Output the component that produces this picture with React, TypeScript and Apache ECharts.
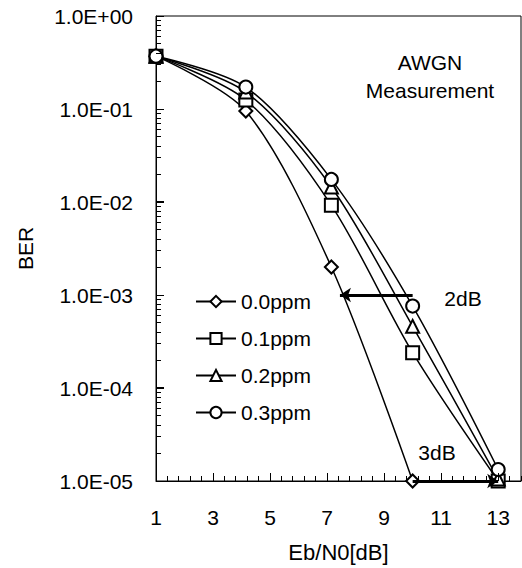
import React, { useEffect, useRef } from "react";
import * as echarts from "echarts";

const ebn0 = [1, 4.15, 7.15, 10, 13];
const ber00 = [0.37, 0.095, 0.002, 0.00001];
const ber01 = [0.37, 0.125, 0.0092, 0.00024, 0.00001];
const ber02 = [0.37, 0.152, 0.0145, 0.00046, 0.0000105];
const ber03 = [0.37, 0.172, 0.0175, 0.00076, 0.0000133];
const seriesNames = ["0.0ppm", "0.1ppm", "0.2ppm", "0.3ppm"];
const seriesSymbols = ["emptyDiamond", "emptyRect", "emptyTriangle", "emptyCircle"];
const yTickLabels: Record<string, string> = {
  "0": "1.0E+00",
  "-1": "1.0E-01",
  "-2": "1.0E-02",
  "-3": "1.0E-03",
  "-4": "1.0E-04",
  "-5": "1.0E-05",
};
const yMajorTicks = [1, 0.1, 0.01, 0.001, 0.0001, 0.00001];
const yMinorTicks = [
  2e-5, 3e-5, 4e-5, 5e-5, 6e-5, 7e-5, 8e-5, 9e-5,
  2e-4, 3e-4, 4e-4, 5e-4, 6e-4, 7e-4, 8e-4, 9e-4,
  2e-3, 3e-3, 4e-3, 5e-3, 6e-3, 7e-3, 8e-3, 9e-3,
  2e-2, 3e-2, 4e-2, 5e-2, 6e-2, 7e-2, 8e-2, 9e-2,
  0.2, 0.3, 0.4, 0.5, 0.6, 0.7, 0.8, 0.9,
];
const xMajorTicks = [1, 3, 5, 7, 9, 11, 13];
const xMinorStep = 0.4;
const arrow2dB = { from: [10, 1e-3], to: [7.45, 1e-3] };
const arrow3dB = { from: [10, 1e-5], to: [13, 1e-5] };

const FONT = "'Liberation Sans', Arial, sans-serif";

export default function App() {
  const ref = useRef<HTMLDivElement>(null);
  useEffect(() => {
    document.body.style.margin = "0";
    const chart = echarts.init(ref.current!, undefined, { renderer: "svg" });
    const allData = [ber00, ber01, ber02, ber03];
    const lineSeries: any[] = allData.map((arr, i) => ({
      name: seriesNames[i],
      type: "line",
      data: arr.map((v, j) => [ebn0[j], v]),
      symbol: seriesSymbols[i],
      symbolSize: 13,
      smooth: 0.3,
      lineStyle: { color: "#000", width: 1.5 },
      itemStyle: { color: "#000", borderColor: "#000", borderWidth: 1.5 },
      z: 3,
    }));
    lineSeries[0].markLine = {
      silent: true,
      symbol: ["none", "arrow"],
      symbolSize: 11,
      label: { show: false },
      lineStyle: { color: "#000", width: 3, type: "solid" },
      data: [
        [{ coord: arrow2dB.from }, { coord: arrow2dB.to }],
        [{ coord: arrow3dB.from }, { coord: arrow3dB.to }],
      ],
    };
    const option: any = {
      animation: false,
      grid: {
        left: 156,
        right: 1,
        top: 16,
        bottom: 86,
        show: true,
        borderColor: "#000",
        borderWidth: 1,
      },
      legend: {
        orient: "vertical",
        left: 190,
        top: 286,
        itemWidth: 40,
        itemHeight: 14,
        itemGap: 16,
        data: seriesNames,
        textStyle: { fontSize: 21, color: "#000", fontFamily: FONT },
      },
      xAxis: {
        type: "value",
        min: 1,
        max: 13.8,
        interval: 2,
        name: "Eb/N0[dB]",
        nameLocation: "middle",
        nameGap: 60,
        nameTextStyle: { fontSize: 22, color: "#000", fontFamily: FONT },
        axisLine: { show: true, lineStyle: { color: "#000" } },
        axisTick: { show: true, inside: true, length: 8, lineStyle: { color: "#000", width: 1 } },
        splitLine: { show: false },
        axisLabel: {
          fontSize: 21,
          color: "#000",
          margin: 26,
          showMaxLabel: false,
          fontFamily: FONT,
        },
      },
      yAxis: {
        type: "log",
        min: 1e-5,
        max: 1,
        name: "BER",
        nameLocation: "middle",
        nameGap: 120,
        nameRotate: 90,
        nameTextStyle: { fontSize: 21, color: "#000", fontFamily: FONT },
        axisLine: { show: true, lineStyle: { color: "#000" } },
        axisTick: { show: true, inside: true, length: 8, lineStyle: { color: "#000", width: 1 } },
        splitLine: { show: false },
        axisLabel: {
          fontSize: 21,
          color: "#000",
          margin: 23,
          padding: [9, 0, 0, 0],
          fontFamily: FONT,
          formatter: (v: number) => {
            const e = Math.round(Math.log10(v));
            return yTickLabels[String(e)] ?? "";
          },
        },
      },
      series: lineSeries,
    };
    chart.setOption(option);

    const texts: any[] = [
      { text: "AWGN", x: 430, y: 62 },
      { text: "Measurement", x: 430, y: 90 },
      { text: "2dB", x: 463, y: 298 },
      { text: "3dB", x: 437, y: 452 },
    ].map((t) => ({
      type: "text",
      x: t.x,
      y: t.y,
      style: { text: t.text, fontSize: 21, fontFamily: FONT, fill: "#000", align: "center", verticalAlign: "middle" },
    }));

    const tickEls: any[] = [];
    const toPx = (x: number, y: number) =>
      chart.convertToPixel({ xAxisIndex: 0, yAxisIndex: 0 }, [x, y]) as number[];
    const crisp = (v: number) => Math.round(v - 0.5) + 0.5;
    yMajorTicks.forEach((v) => {
      const p = toPx(1, v);
      tickEls.push({ x1: p[0], y1: crisp(p[1]), x2: p[0] + 8, y2: crisp(p[1]) });
    });
    yMinorTicks.forEach((v) => {
      const p = toPx(1, v);
      tickEls.push({ x1: p[0], y1: crisp(p[1]), x2: p[0] + 5, y2: crisp(p[1]) });
    });
    for (let x = 1; x <= 13.8 + 1e-9; x += xMinorStep) {
      const xv = Math.round(x * 10) / 10;
      const isMajor = xMajorTicks.includes(xv);
      const p = toPx(xv, 1e-5);
      tickEls.push({ x1: crisp(p[0]), y1: p[1], x2: crisp(p[0]), y2: p[1] - (isMajor ? 8 : 5) });
    }
    const lines = tickEls.map((s) => ({
      type: "line",
      silent: true,
      z: 10,
      shape: s,
      style: { stroke: "#000", lineWidth: 1 },
    }));

    chart.setOption({ graphic: [...texts, ...lines] });
    return () => chart.dispose();
  }, []);
  return <div ref={ref} style={{ width: 522, height: 568 }} />;
}
